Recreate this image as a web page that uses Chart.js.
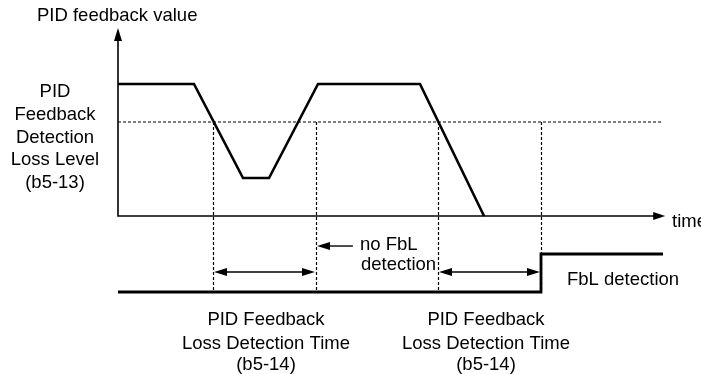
<!DOCTYPE html>
<html><head><meta charset="utf-8">
<script src="https://cdn.jsdelivr.net/npm/chart.js@4"></script>
<style>html,body{margin:0;padding:0;background:#fff}canvas{display:block}</style>
</head><body>
<canvas id="c" width="701" height="374"></canvas>
<script>
// PID feedback trace: breakpoints in time (arbitrary units) and value (% of normal level)
const feedbackTime  = [0, 13.94, 22.94, 27.71, 36.70, 55.41, 67.16];
const feedbackValue = [100, 100, 28.8, 28.8, 100, 100, 0];
// Feedback loss detection level (b5-13) and the span it is drawn over
const lossLevel = 71.2;
const levelSpan = [0, 100];
// FbL detection output: 0 = off, 1 = on
const detectTime  = [0, 77.61, 77.61, 100];
const detectState = [0, 0, 1, 1];
// Instants where the loss timer starts / is reset / expires
const markerTimes = [17.43, 36.33, 58.72, 77.61];
// Loss detection time windows (b5-14)
const timerWindows = [[17.43, 36.33], [58.72, 77.61]];
// "no FbL detection" pointer: tip, tail
const noFbLArrow = [36.33, 43.1];
// Axis extents
const timeAxisEnd = 100.4;
const valueAxisEnd = 142.4;

const FONT = '18.5px "Liberation Sans", Arial, sans-serif';

function pts(xs, ys) { return xs.map((x, i) => ({x, y: ys[i]})); }

function head(ctx, x, y, dx, dy, len, hw) {
  // filled arrowhead with tip at (x,y) pointing along (dx,dy)
  const px = -dy, py = dx;
  ctx.beginPath();
  ctx.moveTo(x, y);
  ctx.lineTo(x - dx * len + px * hw, y - dy * len + py * hw);
  ctx.lineTo(x - dx * len - px * hw, y - dy * len - py * hw);
  ctx.closePath();
  ctx.fill();
}

const diagram = {
  id: 'diagram',
  beforeDatasetsDraw(chart) {
    const {ctx, scales: {x, y, y2}} = chart;
    ctx.save();
    ctx.strokeStyle = '#000';
    ctx.fillStyle = '#000';
    // timer markers, from the loss level down to the detection output
    ctx.lineWidth = 1.2;
    ctx.setLineDash([3, 2]);
    const top = y.getPixelForValue(lossLevel);
    const bot = y2.getPixelForValue(0);
    markerTimes.forEach(t => {
      const px = Math.round(x.getPixelForValue(t)) + 0.5;
      ctx.beginPath(); ctx.moveTo(px, top); ctx.lineTo(px, bot); ctx.stroke();
    });
    ctx.setLineDash([]);
    // axes
    const x0 = x.getPixelForValue(0), y0 = y.getPixelForValue(0);
    const xe = x.getPixelForValue(timeAxisEnd), ye = y.getPixelForValue(valueAxisEnd);
    ctx.lineWidth = 1.6;
    ctx.beginPath();
    ctx.moveTo(x0, ye + 10); ctx.lineTo(x0, y0); ctx.lineTo(xe - 10, y0);
    ctx.stroke();
    head(ctx, x0, ye, 0, -1, 13, 4);
    head(ctx, xe, y0, 1, 0, 12, 4);
    ctx.restore();
  },
  afterDatasetsDraw(chart) {
    const {ctx, scales: {x, y2}} = chart;
    ctx.save();
    ctx.strokeStyle = '#000';
    ctx.fillStyle = '#000';
    ctx.lineWidth = 1.4;
    // timer windows (double arrows)
    const wy = y2.getPixelForValue(0.526);
    timerWindows.forEach(([a, b]) => {
      const xa = x.getPixelForValue(a) + 1, xb = x.getPixelForValue(b) - 1;
      ctx.beginPath(); ctx.moveTo(xa + 8, wy); ctx.lineTo(xb - 8, wy); ctx.stroke();
      head(ctx, xa, wy, -1, 0, 13, 4);
      head(ctx, xb, wy, 1, 0, 13, 4);
    });
    // "no FbL detection" pointer
    const ny = y2.getPixelForValue(1.21);
    const nt = x.getPixelForValue(noFbLArrow[0]) + 1, nb = x.getPixelForValue(noFbLArrow[1]);
    ctx.beginPath(); ctx.moveTo(nb, ny); ctx.lineTo(nt + 8, ny); ctx.stroke();
    head(ctx, nt, ny, -1, 0, 13, 4);

    // texts
    ctx.font = FONT;
    ctx.textBaseline = 'alphabetic';
    ctx.textAlign = 'left';
    ctx.fillText('PID feedback value', 37, 21);
    ctx.fillText('time', 672, 227);
    ctx.fillText('no FbL', 360, 250);
    ctx.fillText('detection', 361, 270);
    ctx.fillText('FbL detection', 567, 285);
    ctx.textAlign = 'center';
    ['PID', 'Feedback', 'Detection', 'Loss Level', '(b5-13)'].forEach((s, i) => {
      ctx.fillText(s, 55, 97 + i * 22.8);
    });
    [266, 486].forEach(cx => {
      ctx.fillText('PID Feedback', cx, 325);
      ctx.fillText('Loss Detection Time', cx, 349);
      ctx.fillText('(b5-14)', cx, 370);
    });
    ctx.restore();
  }
};

new Chart(document.getElementById('c'), {
  type: 'line',
  data: {
    datasets: [
      { label: 'PID feedback value', data: pts(feedbackTime, feedbackValue),
        yAxisID: 'y', borderColor: '#000', borderWidth: 2.6, pointRadius: 0,
        tension: 0, fill: false, borderJoinStyle: 'miter' },
      { label: 'Loss level (b5-13)', data: pts(levelSpan, [lossLevel, lossLevel]),
        yAxisID: 'y', borderColor: '#000', borderWidth: 1.2, borderDash: [3, 2],
        pointRadius: 0, fill: false },
      { label: 'FbL detection', data: pts(detectTime, detectState),
        yAxisID: 'y2', borderColor: '#000', borderWidth: 2.8, pointRadius: 0,
        tension: 0, fill: false, borderJoinStyle: 'miter' }
    ]
  },
  options: {
    responsive: false,
    animation: false,
    events: [],
    layout: { padding: 0 },
    plugins: { legend: { display: false }, tooltip: { enabled: false } },
    scales: {
      x: { type: 'linear', display: false, min: -21.65, max: 106.97 },
      y: { type: 'linear', display: false, min: -119.70, max: 163.64 },
      y2: { type: 'linear', display: false, min: -2.158, max: 7.684 }
    }
  },
  plugins: [diagram]
});
</script>
</body></html>
